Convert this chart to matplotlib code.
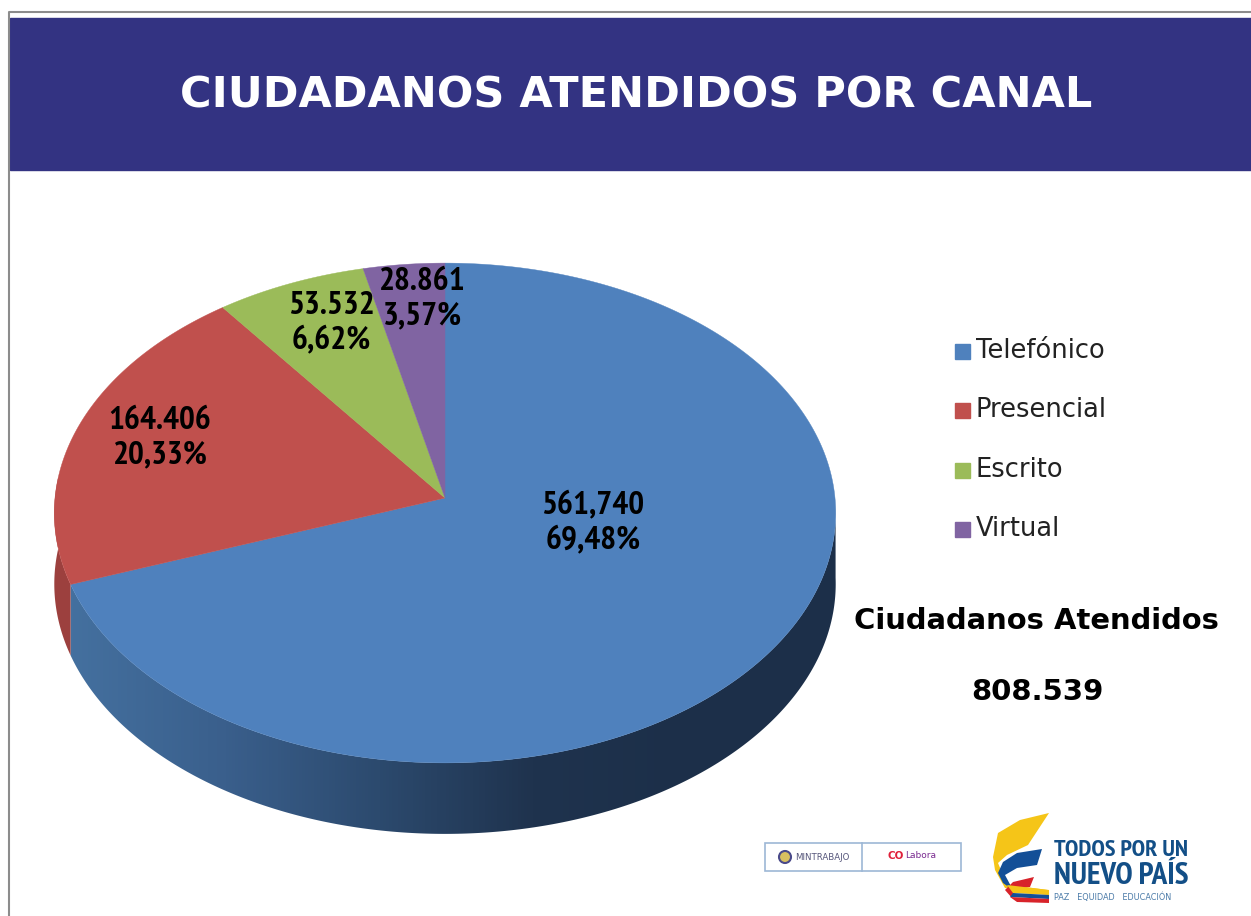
import numpy as np
import matplotlib
matplotlib.use('Agg')
import matplotlib.pyplot as plt
from matplotlib import font_manager as fm
from matplotlib.patches import Polygon, Rectangle, Circle
from matplotlib.colors import LinearSegmentedColormap

canales = ['Telefónico', 'Presencial', 'Escrito', 'Virtual']
ciudadanos = [561740, 164406, 53532, 28861]
etiquetas = ['561,740\n69,48%', '164.406\n20,33%', '53.532\n6,62%', '28.861\n3,57%']
colores = ['#4f81bd', '#c0504d', '#9bbb59', '#8064a2']
titulo = 'CIUDADANOS ATENDIDOS POR CANAL'
total_texto = '808.539'

W, H = 1251, 916
CX, CY = 445, 498
DEPTH = 71
instaladas = {f.name for f in fm.fontManager.ttflist}
FONT_NARROW = [f for f in ['PT Sans Narrow', 'Liberation Sans'] if f in instaladas]


def proyectar(theta):
    # disco visto en perspectiva: theta en grados, horario desde arriba
    t = np.radians(theta)
    u, v = np.sin(t), np.cos(t)
    w = 1 + 0.06 * v
    return CX + 390 * u / w, CY - 249 * v / w


fig = plt.figure(figsize=(W / 100, H / 100), dpi=100)
ax = fig.add_axes([0, 0, 1, 1])
ax.set_xlim(0, W)
ax.set_ylim(H, 0)
ax.axis('off')

# marco y banda del titulo
ax.plot([9, 9, W], [H, 12, 12], color='#8c8c8c', lw=1.5)
ax.add_patch(Rectangle((10, 18), W - 10, 152, color='#333382'))
ax.text(636, 96, titulo, color='white', fontsize=31, fontweight='bold',
        ha='center', va='center')

fracs = np.array(ciudadanos) / sum(ciudadanos)
cortes = np.concatenate([[0], np.cumsum(fracs) * 360])

# pared lateral: solo la parte frontal del disco
gris = LinearSegmentedColormap.from_list(
    'pared', ['#44709f', '#3a5f8c', '#2c4a6e', '#1f334e', '#1c2f49', '#1c2f49'])
th = np.linspace(92, cortes[1], 300)
x, y = proyectar(th)
pared = np.column_stack([np.r_[x, x[::-1]], np.r_[y, y[::-1] + DEPTH]])
clip = Polygon(pared, closed=True, transform=ax.transData, fc='none', ec='none')
ax.add_patch(clip)
img = ax.imshow(np.linspace(0, 1, 256)[None, :], cmap=gris, aspect='auto',
                extent=[70, 840, H, 0], zorder=1)
img.set_clip_path(clip)
ax.set_xlim(0, W)
ax.set_ylim(H, 0)

th = np.linspace(cortes[1], 275, 60)
x, y = proyectar(th)
ax.add_patch(Polygon(np.column_stack([np.r_[x, x[::-1]], np.r_[y, y[::-1] + DEPTH]]),
                     closed=True, fc='#9c403e', ec='none', zorder=1))

# cara superior
for i, c in enumerate(colores):
    th = np.linspace(cortes[i], cortes[i + 1], 300)
    x, y = proyectar(th)
    ax.add_patch(Polygon(np.column_stack([np.r_[CX, x], np.r_[CY, y]]), closed=True,
                         fc=c, ec=c, lw=0.3, zorder=2))

# etiquetas sobre cada porcion
pos_etiquetas = [(593, 523), (160, 438), (331, 323), (422, 299)]
for (px, py), txt in zip(pos_etiquetas, etiquetas):
    ax.text(px, py, txt, ha='center', va='center', fontsize=24, fontweight='bold',
            family=FONT_NARROW, color='black', linespacing=1.2, zorder=3)

# leyenda
ley_y = [351, 410, 470, 529]
for nombre, c, ly in zip(canales, colores, ley_y):
    ax.add_patch(Rectangle((955, ly - 7), 15, 15, color=c, zorder=3))
    ax.text(976, ly, nombre, fontsize=18.5, va='center', color='#222222')

ax.text(1036, 621, 'Ciudadanos Atendidos', fontsize=20.9, fontweight='bold',
        ha='center', va='center', color='black')
ax.text(1037, 692, total_texto, fontsize=21, fontweight='bold',
        ha='center', va='center', color='black')

# logos del pie
ax.add_patch(Rectangle((765, 843), 196, 28, fc='white', ec='#9db7d6', lw=1.2))
ax.plot([862, 862], [843, 871], color='#9db7d6', lw=1.2)
ax.add_patch(Circle((785, 857), 6, fc='#d8c060', ec='#4a4a8a', lw=1.5))
ax.text(795, 857, 'MINTRABAJO', fontsize=6.2, va='center', color='#55557a')
ax.text(888, 856, 'CO', fontsize=7.5, fontweight='bold', va='center', color='#e0203a')
ax.text(905, 856, 'Labora', fontsize=6.5, va='center', color='#7a2a90')

ax.add_patch(Polygon([(1049, 813), (1028, 845), (1007, 855), (998, 863), (1003, 875), (1010, 885),
                      (1048, 890), (1048, 895), (1005, 888), (995, 870), (993, 857), (998, 833),
                      (1020, 820)], closed=True, fc='#f5c518', ec='none'))
ax.add_patch(Polygon([(1042, 849), (1037, 865), (1017, 868), (1005, 875), (1013, 890), (1003, 883),
                      (998, 873), (1003, 862), (1017, 853)], closed=True, fc='#134f97', ec='none'))
ax.add_patch(Polygon([(1034, 877), (1030, 887), (1017, 888), (1012, 898), (1005, 890), (1013, 882)],
                     closed=True, fc='#d8232a', ec='none'))
ax.add_patch(Polygon([(1007, 885), (1049, 890), (1049, 895), (1013, 893)],
                     closed=True, fc='#f5c518', ec='none'))
ax.add_patch(Polygon([(1013, 893), (1049, 895), (1049, 899), (1010, 897)],
                     closed=True, fc='#134f97', ec='none'))
ax.add_patch(Polygon([(1010, 897), (1049, 899), (1049, 903), (1017, 902)],
                     closed=True, fc='#d8232a', ec='none'))
ax.text(1054, 851, 'TODOS POR UN', fontsize=17.5, fontweight='bold', family=FONT_NARROW,
        va='center', color='#134f87')
ax.text(1054, 876, 'NUEVO PAÍS', fontsize=22.5, fontweight='bold', family=FONT_NARROW,
        va='center', color='#134f87')
ax.text(1054, 897, 'PAZ   EQUIDAD   EDUCACIÓN', fontsize=5.9, va='center', color='#4a7aa8')

fig.savefig('out.png', dpi=100, facecolor='white')
